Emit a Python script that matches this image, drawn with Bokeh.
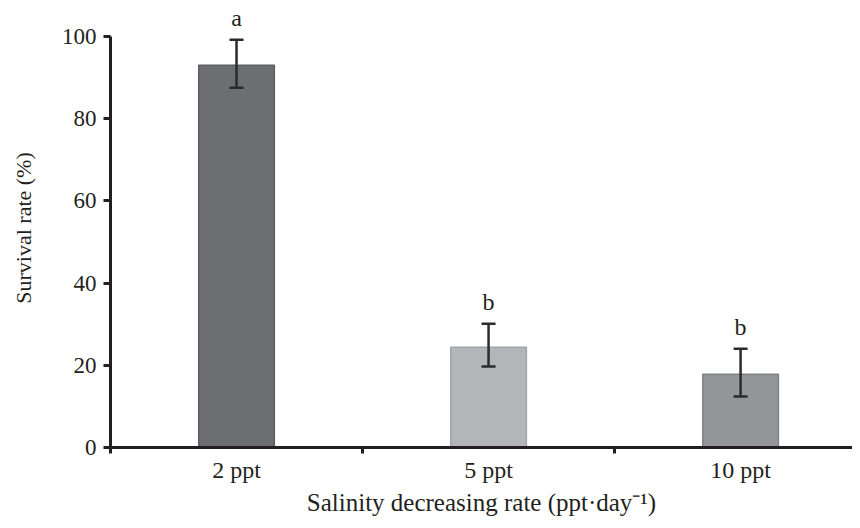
from bokeh.plotting import figure
from bokeh.models import (ColumnDataSource, FixedTicker, Whisker, TeeHead, LabelSet, Range1d)
from bokeh.embed import file_html
from bokeh.resources import INLINE

categories = ["2 ppt", "5 ppt", "10 ppt"]
survival = [93.0, 24.4, 17.8]
err_upper = [99.2, 30.1, 24.0]
err_lower = [87.5, 19.7, 12.4]
letters = ["a", "b", "b"]
bar_colors = ["#6d6e72", "#b4b5b8", "#939598"]
edge_colors = ["#5c5d60", "#a2a3a6", "#808184"]
y_ticks = [0, 20, 40, 60, 80, 100]

xs = [i + 0.5 for i in range(len(categories))]
letter_y = [u + 5.3 for u in err_upper]

src = ColumnDataSource(dict(x=xs, top=survival, upper=err_upper, lower=err_lower,
                            fill=bar_colors, edge=edge_colors, letter=letters, ly=letter_y))

FONT = "Liberation Serif"
INK = "#231f20"

p = figure(width=852, height=520, output_backend="svg", toolbar_location=None,
           x_range=Range1d(0, 2.944), y_range=Range1d(0, 106.8),
           min_border_left=110, min_border_right=0, min_border_top=8, min_border_bottom=73)
p.outline_line_color = None
p.background_fill_color = "white"
p.grid.visible = False

p.vbar(x="x", top="top", bottom=0, width=0.3, source=src, fill_color="fill",
       line_color="edge", line_width=1.5)

w = Whisker(base="x", upper="upper", lower="lower", source=src, line_color="#2b2b2b", line_width=2.5,
            level="overlay",
            upper_head=TeeHead(size=14, line_color="#2b2b2b", line_width=2.5),
            lower_head=TeeHead(size=14, line_color="#2b2b2b", line_width=2.5))
p.add_layout(w)

ls = LabelSet(x="x", y="ly", text="letter", source=src, text_align="center", text_baseline="middle",
              text_font=FONT, text_font_size="24px", text_color=INK)
p.add_layout(ls)

# x axis
p.xaxis.ticker = FixedTicker(ticks=xs, minor_ticks=[0, 1, 2, 3])
p.xaxis.major_label_overrides = {x: c for x, c in zip(xs, categories)}
p.xaxis.major_tick_line_color = None
p.xaxis.major_tick_out = 5
p.xaxis.major_tick_in = 0
p.xaxis.minor_tick_out = 6
p.xaxis.minor_tick_in = 0
p.xaxis.minor_tick_line_width = 3
p.xaxis.minor_tick_line_color = INK
p.xaxis.axis_line_width = 3
p.xaxis.axis_line_color = INK
p.xaxis.major_label_text_font = FONT
p.xaxis.major_label_text_font_size = "24px"
p.xaxis.major_label_text_color = INK
p.xaxis.major_label_standoff = 3
p.xaxis.axis_label = "Salinity decreasing rate (ppt\u00b7day\u207b\u00b9)"
p.xaxis.axis_label_text_font = FONT
p.xaxis.axis_label_text_font_style = "normal"
p.xaxis.axis_label_text_font_size = "25px"
p.xaxis.axis_label_text_color = INK
p.xaxis.axis_label_standoff = 3

# y axis
p.yaxis.bounds = (0, 100)
p.yaxis.ticker = FixedTicker(ticks=y_ticks, minor_ticks=[])
p.yaxis.major_tick_out = 7
p.yaxis.major_tick_in = 0
p.yaxis.major_tick_line_width = 3
p.yaxis.major_tick_line_color = INK
p.yaxis.axis_line_width = 3
p.yaxis.axis_line_color = INK
p.yaxis.major_label_text_font = FONT
p.yaxis.major_label_text_font_size = "23px"
p.yaxis.major_label_text_color = INK
p.yaxis.major_label_standoff = 7
p.yaxis.axis_label = "Survival rate (%)"
p.yaxis.axis_label_text_font = FONT
p.yaxis.axis_label_text_font_style = "normal"
p.yaxis.axis_label_text_font_size = "22px"
p.yaxis.axis_label_text_color = INK
p.yaxis.axis_label_standoff = 23

open("out.html", "w").write(file_html(p, INLINE))
